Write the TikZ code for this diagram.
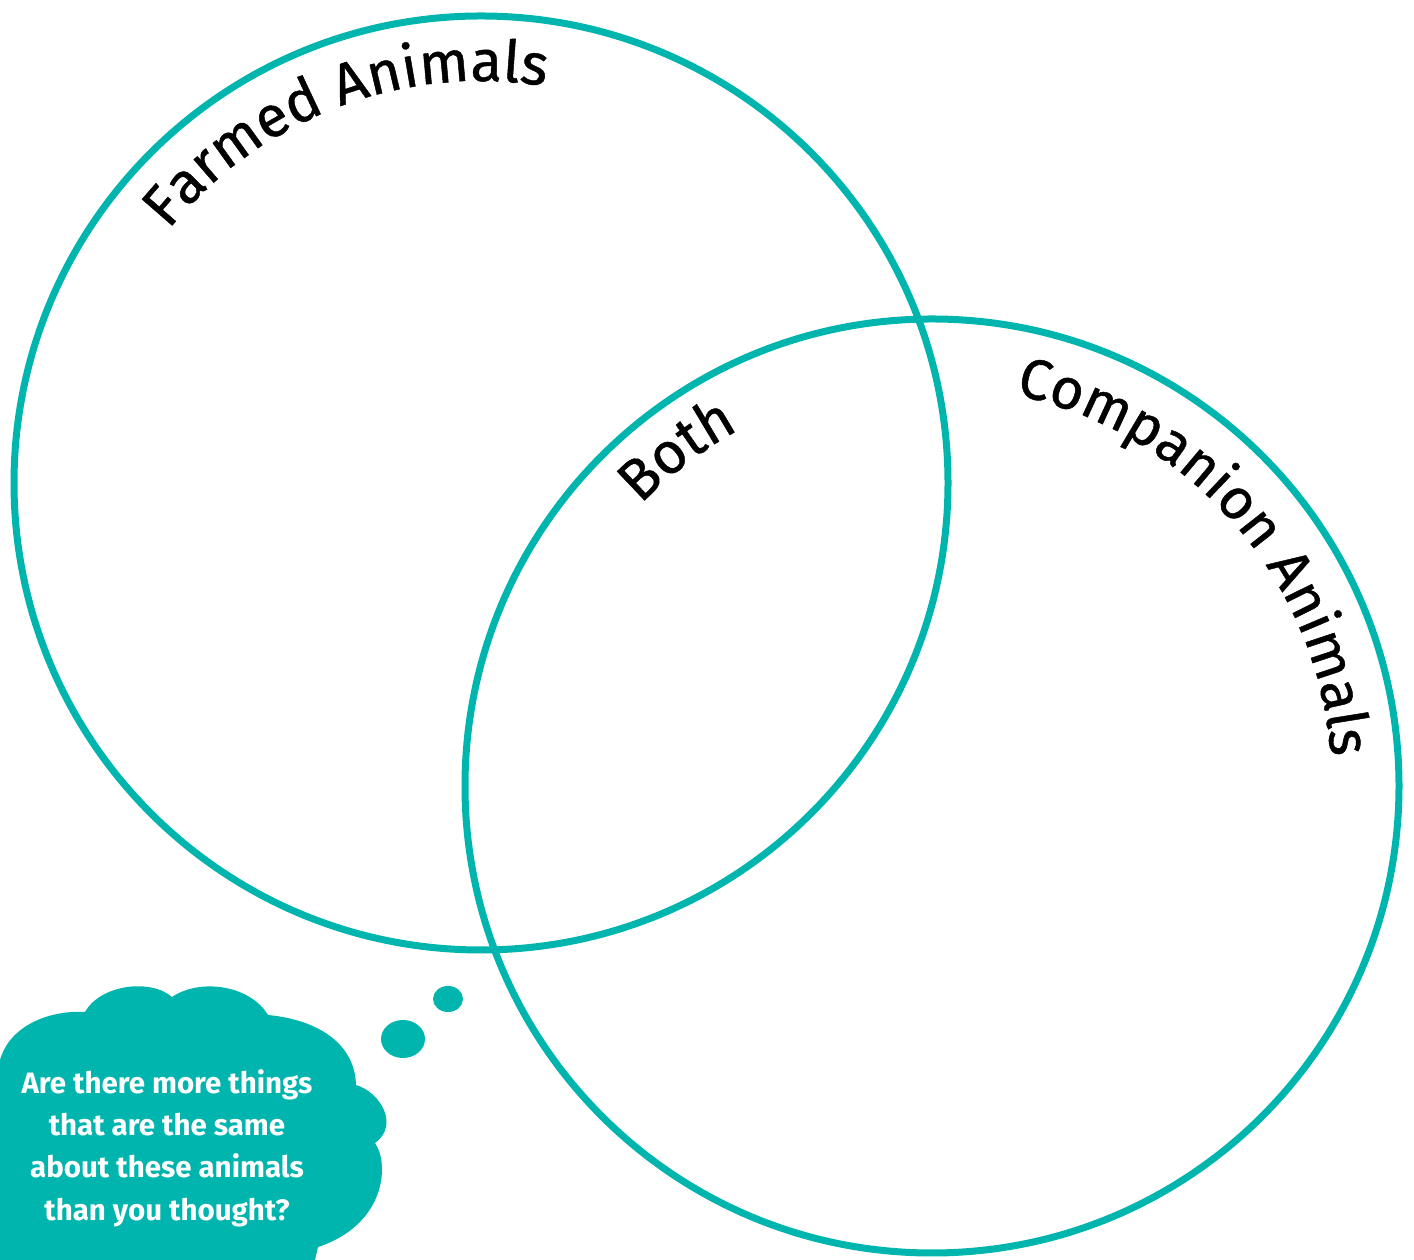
\documentclass[tikz,border=0pt]{standalone}
\usepackage{fontspec}
\setmainfont{Fira Sans}
\newfontfamily\labelfont{Fira Sans}[FakeBold=0.8]
\usetikzlibrary{decorations.text}
\definecolor{vennteal}{RGB}{0,181,173}
\begin{document}
\begin{tikzpicture}[x=1pt, y=1pt,
    ring/.style={draw=vennteal, line width=7pt},
    arclabel/.style={decorate, decoration={text along path, text={#1}, text align=left}}]
  \useasboundingbox (0,0) rectangle (1414,1260);
  \coordinate (farmed) at (481,777);
  \coordinate (companion) at (932,474);
  \draw[ring] (farmed) circle[radius=467];
  \draw[ring] (companion) circle[radius=467];
  % labels along the rings
  \path[arclabel={|\labelfont\fontsize{58}{70}\selectfont|Farmed Animals}] (farmed) ++(141:402) arc[start angle=141, end angle=50, radius=402];
  \path[arclabel={|\labelfont\fontsize{57}{70}\selectfont|Companion Animals}] (companion) ++(78:400) arc[start angle=78, end angle=-20, radius=400];
  \path[arclabel={|\labelfont\fontsize{58}{70}\selectfont|Both}] (companion) ++(136:405) arc[start angle=136, end angle=100, radius=405];
  % thought bubble
  \fill[vennteal] (0,200) .. controls (10,235) and (50,250) .. (85,248)
    .. controls (100,275) and (150,282) .. (172,263)
    .. controls (200,282) and (250,275) .. (268,245)
    .. controls (320,240) and (355,215) .. (356,175)
    .. controls (380,168) and (400,135) .. (375,117)
    .. controls (390,95) and (385,35) .. (318,13)
    -- (315,0) -- (0,0) -- cycle;
  \fill[vennteal] (403,221) ellipse[x radius=22, y radius=19];
  \fill[vennteal] (448,261) ellipse[x radius=15, y radius=13];
  \node[text=white, font=\fontsize{29.5}{42.3}\selectfont\bfseries, align=center] (question) at (167,112)
    {Are there more things\\that are the same\\about these animals\\than you thought?};
\end{tikzpicture}
\end{document}
